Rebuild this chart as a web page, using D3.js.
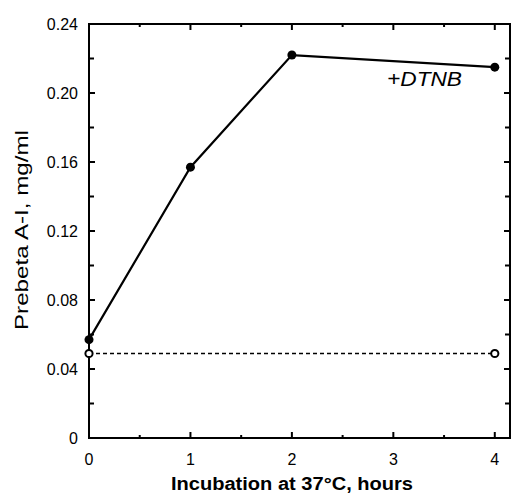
<!DOCTYPE html>
<html>
<head>
<meta charset="utf-8">
<script src="https://cdn.jsdelivr.net/npm/d3@7"></script>
<style>
  body { margin: 0; background: #fff; }
  svg { display: block; font-family: "Liberation Sans", Arial, sans-serif; }
</style>
</head>
<body>
<svg id="chart" width="515" height="495"></svg>
<script>
// values
var hours = [0, 1, 2, 4];
var dtnb = [0.057, 0.157, 0.222, 0.215];
var ctrlHours = [0, 4];
var ctrl = [0.049, 0.049];
var xTicks = [0, 1, 2, 3, 4];
var yTicks = [0, 0.04, 0.08, 0.12, 0.16, 0.20, 0.24];
var yTickLabels = ['0', '0.04', '0.08', '0.12', '0.16', '0.20', '0.24'];

var svg = d3.select('#chart');
var m = { left: 89, right: 5, top: 24, bottom: 57 };
var W = 515, H = 495;

var x = d3.scaleLinear().domain([0, 4.15]).range([m.left, W - m.right]);
var y = d3.scaleLinear().domain([0, 0.24]).range([H - m.bottom, m.top]);

// inward ticks on all four sides
var xMinor = d3.range(0.5, 4.1, 1);
var yMinor = d3.range(0.02, 0.24, 0.04);

function xticks(vals, len) {
  var g = svg.append('g').attr('stroke', '#000').attr('stroke-width', 2);
  vals.forEach(function (v) {
    g.append('line').attr('x1', x(v)).attr('x2', x(v)).attr('y1', y(0)).attr('y2', y(0) - len);
    g.append('line').attr('x1', x(v)).attr('x2', x(v)).attr('y1', y(0.24)).attr('y2', y(0.24) + len);
  });
}
function yticks(vals, len) {
  var g = svg.append('g').attr('stroke', '#000').attr('stroke-width', 2);
  vals.forEach(function (v) {
    g.append('line').attr('x1', x(0)).attr('x2', x(0) + len).attr('y1', y(v)).attr('y2', y(v));
    g.append('line').attr('x1', x(4.15)).attr('x2', x(4.15) - len).attr('y1', y(v)).attr('y2', y(v));
  });
}
xticks(xTicks, 6);
xticks(xMinor, 3);
yticks(yTicks, 6);
yticks(yMinor, 5);

// frame
svg.append('rect')
  .attr('x', x(0)).attr('y', y(0.24))
  .attr('width', x(4.15) - x(0)).attr('height', y(0) - y(0.24))
  .attr('fill', 'none').attr('stroke', '#000').attr('stroke-width', 2);

// tick labels
svg.append('g').selectAll('text').data(xTicks).enter().append('text')
  .attr('x', function (d) { return x(d); })
  .attr('y', y(0) + 27)
  .attr('text-anchor', 'middle')
  .attr('font-size', 16)
  .text(function (d) { return d; });

svg.append('g').selectAll('text').data(yTicks).enter().append('text')
  .attr('x', x(0) - 11)
  .attr('y', function (d) { return y(d) + 5.5; })
  .attr('text-anchor', 'end')
  .attr('font-size', 16)
  .text(function (d, i) { return yTickLabels[i]; });

// axis titles (the scan is a little wider than the font, so stretch to fit)
svg.append('text')
  .attr('x', 171).attr('y', 490)
  .attr('font-size', 18).attr('font-weight', 'bold')
  .attr('textLength', 242).attr('lengthAdjust', 'spacingAndGlyphs')
  .text('Incubation at 37°C, hours');

svg.append('text')
  .attr('transform', 'translate(28,330) rotate(-90)')
  .attr('font-size', 19)
  .attr('textLength', 200).attr('lengthAdjust', 'spacingAndGlyphs')
  .text('Prebeta A-I, mg/ml');

// control (dashed, open circles)
var line = d3.line().x(function (d) { return x(d[0]); }).y(function (d) { return y(d[1]); });
var ctrlPts = d3.zip(ctrlHours, ctrl);
svg.append('path').datum(ctrlPts)
  .attr('d', line).attr('fill', 'none')
  .attr('stroke', '#000').attr('stroke-width', 1.6).attr('stroke-dasharray', '4,3');

// DTNB series (solid, filled circles)
var dtnbPts = d3.zip(hours, dtnb);
svg.append('path').datum(dtnbPts)
  .attr('d', line).attr('fill', 'none')
  .attr('stroke', '#000').attr('stroke-width', 2.2);

svg.append('g').selectAll('circle').data(dtnbPts).enter().append('circle')
  .attr('cx', function (d) { return x(d[0]); })
  .attr('cy', function (d) { return y(d[1]); })
  .attr('r', 4.5).attr('fill', '#000');

svg.append('g').selectAll('circle').data(ctrlPts).enter().append('circle')
  .attr('cx', function (d) { return x(d[0]); })
  .attr('cy', function (d) { return y(d[1]); })
  .attr('r', 3.6).attr('fill', '#fff').attr('stroke', '#000').attr('stroke-width', 2);

// series label
svg.append('text')
  .attr('x', 387).attr('y', 86)
  .attr('font-size', 20).attr('font-style', 'italic')
  .attr('textLength', 75).attr('lengthAdjust', 'spacingAndGlyphs')
  .text('+DTNB');
</script>
</body>
</html>
